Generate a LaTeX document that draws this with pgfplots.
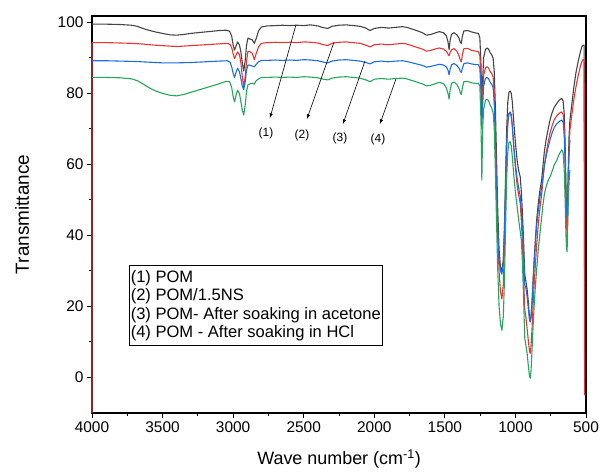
\documentclass[border=0pt]{standalone}
\usepackage{fontspec}
\setmainfont{Liberation Sans}
\usepackage{pgfplots}
\usepackage{pgfplotstable}
\pgfplotsset{compat=1.18}

\definecolor{cgray}{RGB}{68,68,68}
\definecolor{cred}{RGB}{236,52,52}
\definecolor{cblue}{RGB}{30,108,222}
\definecolor{cgreen}{RGB}{38,166,92}

% (1) POM
\pgfplotstableread{
wn T
4000 99.4
3900 99.4
3800 99.3
3720 99.1
3680 98.8
3640 98.2
3600 97.7
3550 97.2
3500 96.8
3450 96.4
3400 96.3
3350 96.5
3300 96.8
3250 97.0
3200 97.2
3150 97.4
3100 97.6
3050 97.7
3025 97.4
3010 96.0
3000 93.5
2990 92.1
2978 93.4
2968 94.4
2955 93.5
2945 91.5
2935 88.5
2925 86.2
2915 89.0
2905 93.5
2895 95.5
2880 95.2
2865 95.0
2850 94.0
2838 95.2
2820 97.5
2800 98.6
2760 98.9
2700 99.0
2650 99.1
2600 99.0
2550 99.1
2500 99.0
2450 99.2
2400 98.9
2360 98.4
2330 98.2
2300 98.8
2250 99.1
2200 99.2
2150 99.0
2100 98.8
2060 98.3
2030 97.6
2000 98.2
1950 98.5
1900 98.3
1850 98.5
1800 98.7
1770 98.5
1730 98.0
1700 97.6
1660 97.0
1630 96.3
1600 96.5
1570 96.9
1540 97.3
1510 97.0
1490 96.2
1478 94.5
1470 92.2
1462 95.0
1452 96.6
1435 97.0
1415 96.4
1400 95.5
1390 94.2
1383 94.0
1376 96.0
1365 97.5
1340 97.6
1310 97.2
1280 96.9
1262 96.8
1252 95.5
1244 88
1238 76
1232 84
1225 90
1212 92.3
1200 92.7
1190 92.3
1178 91.3
1168 90.8
1158 89.8
1150 86
1142 76
1134 62
1126 48
1116 36
1106 31
1096 30
1086 33
1078 42
1070 56
1062 70
1054 77.5
1046 80.2
1038 80.6
1030 80.0
1022 77.5
1012 72
1000 66
988 61
976 58
966 56.4
958 52
950 46
942 38
934 29
926 27
918 25
908 21
900 16.5
895 15.6
889 17
882 21
874 28
866 34
858 39
850 44
838 49
825 53
814 55.5
805 59.5
795 63.5
783 66.8
770 69.5
755 72.4
740 74.5
725 76.0
708 77.0
690 78.0
672 78.5
662 77.8
654 74
648 66
642 54
637 44
634 42
630 48
625 60
620 68
614 72.4
600 77
585 82
570 86
555 89
540 91.5
530 93
520 93.5
513 93.5
509 0
503 0
}\pom

% (2) POM/1.5NS
\pgfplotstableread{
wn T
4000 -10.1
4000 94.2
3900 94.2
3800 94.1
3720 94.0
3640 93.8
3560 93.5
3480 93.3
3400 93.1
3320 93.3
3240 93.5
3160 93.7
3080 93.9
3040 94.0
3020 93.6
3008 92.5
3000 91.0
2990 89.7
2978 90.8
2968 91.6
2955 90.8
2945 88.5
2935 84.5
2925 81.8
2915 84.5
2905 89.0
2895 91.8
2880 91.6
2865 91.2
2850 89.4
2838 91.0
2820 93.0
2800 94.0
2760 94.2
2700 94.3
2650 94.2
2600 94.3
2550 94.2
2500 94.4
2450 94.3
2400 94.1
2360 93.6
2330 93.4
2300 94.0
2250 94.3
2200 94.4
2150 94.2
2100 94.0
2060 93.5
2030 93.0
2000 93.6
1950 93.8
1900 93.6
1850 93.8
1800 94.0
1770 93.8
1730 93.3
1700 92.9
1660 92.4
1630 91.8
1600 92.0
1570 92.4
1540 92.7
1510 92.4
1490 91.8
1478 91.0
1470 90.5
1462 91.5
1452 92.2
1435 92.5
1415 91.8
1400 90.5
1390 89.2
1383 88.8
1376 90.8
1365 92.5
1340 92.6
1310 92.0
1280 91.8
1262 91.6
1252 90.5
1244 84
1238 73
1232 80
1225 85
1212 87.2
1200 87.4
1190 87.0
1178 86.0
1168 85.5
1158 84.5
1150 80
1142 68
1134 54
1126 40
1116 30
1106 24
1096 22
1086 26
1078 36
1070 50
1062 64
1054 71.5
1046 74.2
1038 74.7
1030 74.0
1022 71.0
1012 65
1000 59
988 54
976 51
966 49
958 44
950 37
942 28
934 19
926 17
918 14
908 10
900 7.2
895 6.7
889 9
882 14
874 21
866 27
858 32
850 37
838 43
825 48
814 51.5
805 55.5
795 59.5
783 62.8
770 65.8
755 68.7
740 70.8
725 72.5
708 73.5
690 74.3
672 74.7
662 74.0
654 70
648 62
642 50
637 42
634 40
630 45
625 56
620 64
614 69.6
600 74
585 78.5
570 82
555 85
540 87.5
530 88.8
520 89.5
513 89.5
510 -5
503 -5
}\pomns

% (3) POM- After soaking in acetone
\pgfplotstableread{
wn T
4000 89.1
3900 89.1
3800 89.0
3700 88.9
3600 88.7
3500 88.5
3400 88.5
3300 88.6
3200 88.8
3100 89.0
3040 89.1
3020 88.6
3008 87.0
3000 85.5
2990 84.4
2978 86.0
2968 87.0
2955 86.0
2945 84.0
2935 82.0
2925 81.0
2915 83.0
2905 86.5
2895 87.9
2880 87.8
2865 87.6
2850 87.4
2838 88.0
2820 88.8
2800 89.2
2760 89.2
2700 89.3
2650 89.2
2600 89.3
2550 89.2
2500 89.4
2450 89.3
2400 89.1
2360 88.7
2330 88.5
2300 89.0
2250 89.3
2200 89.4
2150 89.2
2100 89.0
2060 88.6
2030 88.2
2000 88.8
1950 89.0
1900 88.8
1850 89.0
1800 89.1
1770 88.9
1730 88.5
1700 88.2
1660 87.8
1630 87.3
1600 87.5
1570 87.8
1540 88.1
1510 87.9
1490 87.4
1478 86.5
1470 85.1
1462 86.8
1452 88.0
1435 88.3
1415 87.8
1400 87.0
1390 86.1
1383 85.8
1376 87.0
1365 88.3
1340 88.5
1310 88.2
1280 88.0
1262 88.0
1252 87.0
1244 80
1238 70
1232 77
1225 82
1212 84.2
1200 84.4
1190 84.0
1178 83.0
1168 82.5
1158 81.5
1150 77
1142 66
1134 53
1126 41
1116 33
1106 30
1096 29
1086 32
1078 41
1070 54
1062 66
1054 72
1046 74.2
1038 74.4
1030 73.6
1022 70.5
1012 65
1000 60
988 56
976 53
966 51
958 47
950 42
942 35
934 26
926 25
918 23
908 19
900 16.2
895 15.6
889 17.5
882 21.5
874 27.5
866 33
858 38
850 42.5
838 47
825 51
814 53.5
805 56.5
795 59.5
783 62.0
770 64.5
755 66.8
740 68.8
725 70.3
708 71.3
690 72.0
672 72.4
662 71.8
654 68
648 60
642 50
637 46
634 45
630 50
625 58
620 63
614 66.8
}\pomac

% (4) POM - After soaking in HCl
\pgfplotstableread{
wn T
4000 84.4
3900 84.4
3800 84.3
3720 84.0
3680 83.5
3640 82.6
3600 81.6
3550 80.6
3500 79.9
3450 79.4
3400 79.2
3350 79.6
3300 80.2
3250 80.8
3200 81.4
3150 82.0
3100 82.6
3050 83.3
3025 83.2
3010 81.5
3000 79.0
2990 77.5
2978 79.6
2968 80.8
2955 79.8
2945 77.5
2935 75.2
2925 73.8
2915 76.5
2905 80.5
2895 82.3
2880 82.6
2865 82.8
2850 82.5
2838 83.4
2820 84.0
2800 84.4
2760 84.4
2700 84.5
2650 84.4
2600 84.5
2550 84.4
2500 84.6
2450 84.5
2400 84.3
2360 83.9
2330 83.7
2300 84.2
2250 84.5
2200 84.6
2150 84.4
2100 84.2
2060 83.7
2030 83.2
2000 83.9
1950 84.1
1900 83.9
1850 84.1
1800 84.2
1770 84.0
1730 83.5
1700 83.1
1660 82.6
1630 82.0
1600 82.2
1570 82.6
1540 83.0
1510 82.7
1490 81.5
1478 80.0
1470 78.3
1462 81.0
1452 82.8
1435 83.1
1415 82.4
1400 81.3
1390 80.0
1383 79.6
1376 81.5
1365 83.2
1340 83.3
1310 82.9
1280 82.7
1262 82.7
1252 82.0
1244 72
1238 55.5
1232 70
1225 75.5
1212 78.0
1200 78.3
1190 77.8
1178 76.5
1168 75.8
1158 74.5
1150 70
1142 58
1134 44
1126 31
1116 20
1106 15
1096 13.2
1086 17
1078 27
1070 42
1062 56
1054 63.5
1046 66.0
1038 66.3
1030 65.3
1022 62
1012 57
1000 52
988 48
976 44
966 41
958 38.6
950 32
942 22
934 11
926 9
918 7
908 3
900 0.2
895 -0.3
889 2
882 8
874 15
866 21
858 26
850 30
838 36
825 41
814 45
805 48.5
795 51.5
783 53.6
770 55.2
755 56.4
740 58.0
725 59.8
708 61.0
690 62.8
672 64.0
662 63.2
654 58
648 50
642 40
637 36
634 35.3
630 42
625 50
620 55
614 58.3
}\pomhcl

\begin{document}
\begin{tikzpicture}
\begin{axis}[
    at={(0,0)}, anchor=south west,
    scale only axis,
    width=494bp, height=397bp,
    set layers,
    clip=false,
    x dir=reverse,
    xmin=500, xmax=4000,
    ymin=-10.1, ymax=101.7,
    xtick={500,1000,...,4000},
    ytick={0,20,...,100},
    minor x tick num=1,
    minor y tick num=1,
    tick pos=left,
    tick align=outside,
    major tick length=5bp,
    minor tick length=3bp,
    every tick/.style={black, line width=0.8bp},
    axis line style={black, line width=1.1bp},
    scaled x ticks=false,
    xticklabel style={/pgf/number format/1000 sep=},
    /pgf/number format/assume math mode=true,
    ticklabel style={font=\fontsize{15.5}{18}\selectfont},
    every axis plot/.append style={line width=1.1bp, line join=round},
]
\addplot[cgray, no markers] table[x=wn, y=T] {\pom};
\addplot[cred, no markers] table[x=wn, y=T] {\pomns};
\addplot[cblue, no markers] table[x=wn, y=T] {\pomac};
\addplot[cgreen, no markers] table[x=wn, y=T] {\pomhcl};

% pointers to the curves
\draw[-latex, black, line width=0.6bp] (axis cs:2555,99.2) -- (axis cs:2739,73.0);
\draw[-latex, black, line width=0.6bp] (axis cs:2285,94.4) -- (axis cs:2477,72.7);
\draw[-latex, black, line width=0.6bp] (axis cs:2066,89.0) -- (axis cs:2222,71.3);
\draw[-latex, black, line width=0.6bp] (axis cs:1846,84.0) -- (axis cs:1960,71.3);
\node[font=\fontsize{12}{14}\selectfont] at (axis cs:2767,68.7) {(1)};
\node[font=\fontsize{12}{14}\selectfont] at (axis cs:2512,68.2) {(2)};
\node[font=\fontsize{12}{14}\selectfont] at (axis cs:2243,67.3) {(3)};
\node[font=\fontsize{12}{14}\selectfont] at (axis cs:1974,67.0) {(4)};

\node[draw, line width=0.6bp, anchor=north west, align=left,
      inner xsep=1.5bp, inner ysep=5bp,
      font=\fontsize{16.6}{18.3}\selectfont]
  at (axis cs:3738,31.5)
  {(1) POM\\(2) POM/1.5NS\\(3) POM- After soaking in acetone\\(4) POM - After soaking in HCl};
\end{axis}
\node[rotate=90, font=\fontsize{19}{22}\selectfont] at (-70bp,198.5bp) {Transmittance};
\node[font=\fontsize{18}{21}\selectfont] at (247bp,-46bp) {Wave number (cm\textsuperscript{-1})};
\pgfresetboundingbox
\path (-92bp,-62bp) rectangle (509bp,413bp);
\end{tikzpicture}
\end{document}
